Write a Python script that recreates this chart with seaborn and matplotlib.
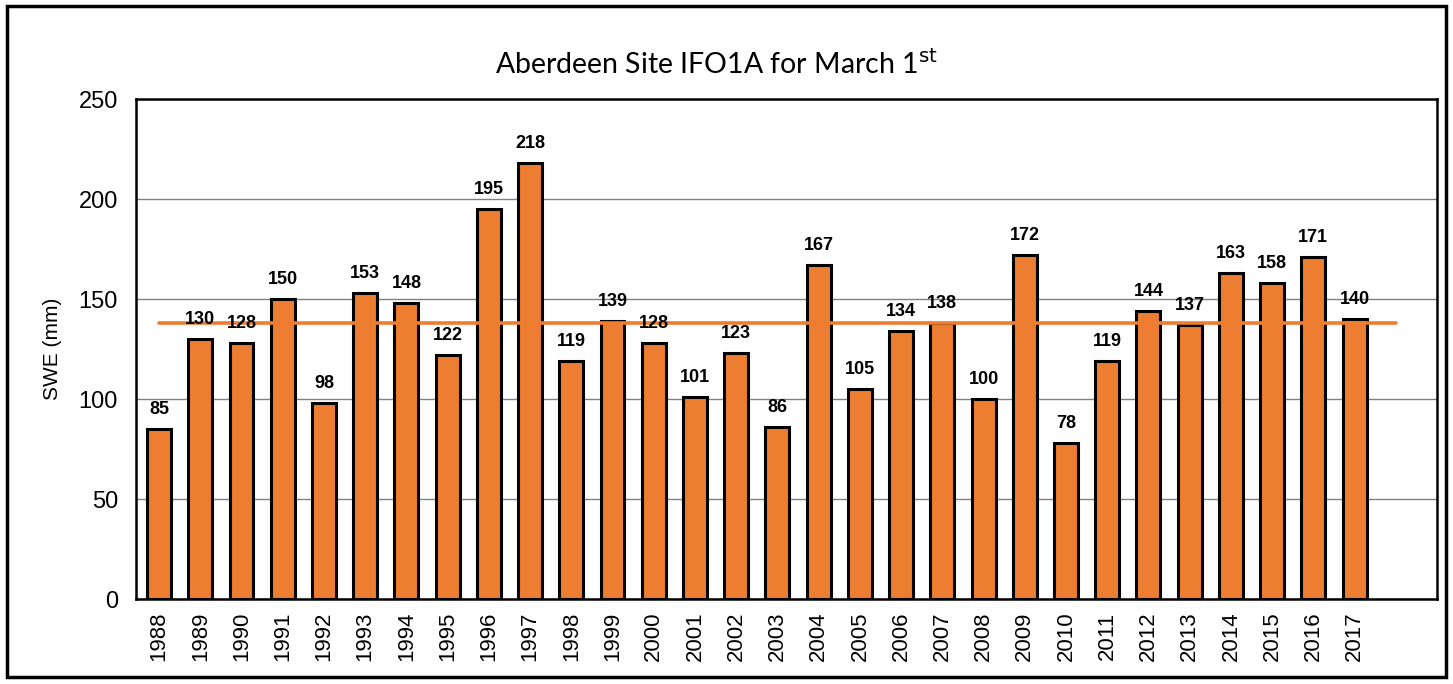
import matplotlib
matplotlib.use('Agg')
import matplotlib.pyplot as plt
import seaborn as sns
import pandas as pd
from matplotlib.patches import Rectangle

years = [str(y) for y in range(1988, 2018)]
swe = [85, 130, 128, 150, 98, 153, 148, 122, 195, 218,
       119, 139, 128, 101, 123, 86, 167, 105, 134, 138,
       100, 172, 78, 119, 144, 137, 163, 158, 171, 140]
avg_swe = 138

df = pd.DataFrame({'year': years, 'swe': swe})

sns.set_style('white')
plt.rcParams['font.family'] = ['Liberation Sans', 'DejaVu Sans']
plt.rcParams['text.color'] = 'black'
plt.rcParams['axes.labelcolor'] = 'black'
plt.rcParams['xtick.color'] = 'black'
plt.rcParams['ytick.color'] = 'black'

fig = plt.figure(figsize=(14.53, 6.84), dpi=100)
ax = fig.add_axes([136 / 1453, 85 / 684, 1301 / 1453, 500 / 684])

# сетка под столбцами
ax.set_axisbelow(True)
ax.yaxis.grid(True, color='#808080', linewidth=1.0)

sns.barplot(data=df, x='year', y='swe', color='#ED7D31', saturation=1,
            edgecolor='black', linewidth=2.2, width=0.58, ax=ax)

# линия среднего
ax.plot([0, 30], [avg_swe, avg_swe], color='#ED7D31', linewidth=2.6,
        solid_capstyle='round', zorder=3)

# подписи значений
for i, v in enumerate(swe):
    ax.annotate(str(v), (i, v), xytext=(0, 8), textcoords='offset points',
                ha='center', va='bottom', fontsize=13, fontweight='bold',
                family='Liberation Sans')

ax.set_xlim(-0.56, 31.0)
ax.set_ylim(0, 250)
ax.set_yticks([0, 50, 100, 150, 200, 250])
ax.tick_params(axis='y', labelsize=17, length=0, pad=13)
ax.tick_params(axis='x', labelsize=16, length=0, pad=9, rotation=90)
for lab in ax.get_xticklabels() + ax.get_yticklabels():
    lab.set_family('Liberation Sans')
ax.set_xlabel('')
ax.set_ylabel('SWE (mm)', fontsize=15, labelpad=12, family='Liberation Sans')

for s in ax.spines.values():
    s.set_color('black')
    s.set_linewidth(1.8)

fig.text(0.493, 0.885, r'Aberdeen Site IFO1A for March 1$^{\mathrm{st}}$',
         ha='center', va='bottom', fontsize=20.5, family=['Lato', 'DejaVu Sans'])

# рамка вокруг рисунка
fig.patches.append(Rectangle((7 / 1453, 7 / 684), 1439 / 1453, 671 / 684,
                             transform=fig.transFigure, fill=False,
                             edgecolor='black', linewidth=2.5))

fig.savefig('out.png', dpi=100)
